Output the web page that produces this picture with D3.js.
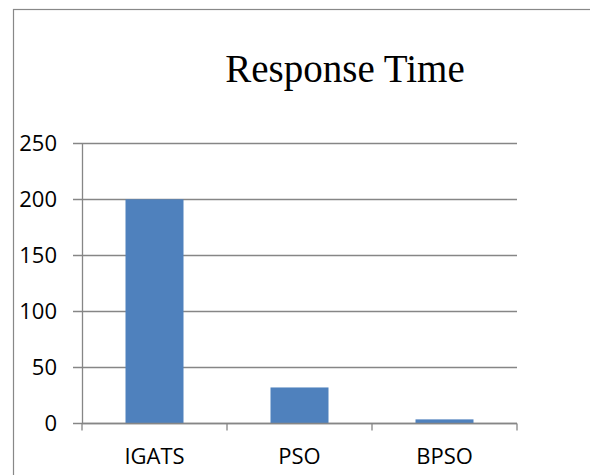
<!DOCTYPE html>
<html><head><meta charset="utf-8">
<script src="https://cdn.jsdelivr.net/npm/d3@7"></script>
<style>html,body{margin:0;padding:0;background:#fff;overflow:hidden}</style>
</head><body>
<svg id="c" width="590" height="475"></svg>
<script>
const categories = ["IGATS", "PSO", "BPSO"];
const values = [200, 32, 3.5];
const yTicks = [0, 50, 100, 150, 200, 250];
const title = "Response Time";

const svg = d3.select("#c");
svg.append("rect").attr("x", 13.5).attr("y", 9.5).attr("width", 600).attr("height", 500)
  .attr("fill", "#fff").attr("stroke", "#888").attr("stroke-width", 1.2);

const pLeft = 82, pRight = 517, pTop = 143.3, pBottom = 423.3;
const x = d3.scaleBand().domain(categories).range([pLeft, pRight]).paddingInner(0.6).paddingOuter(0.3);
const y = d3.scaleLinear().domain([0, 250]).range([pBottom, pTop]);
const grid = "#868686";

// gridlines
svg.append("g").selectAll("line").data(yTicks).join("line")
  .attr("x1", pLeft - 9).attr("x2", pRight)
  .attr("y1", d => Math.round(y(d)) + 0.5).attr("y2", d => Math.round(y(d)) + 0.5)
  .attr("stroke", grid).attr("stroke-width", 1.3);

// y axis
const ya = svg.append("g").attr("transform", `translate(${pLeft},0)`)
  .call(d3.axisLeft(y).tickValues(yTicks).tickSize(0).tickPadding(25));
ya.select(".domain").attr("stroke", grid).attr("stroke-width", 1.3);
ya.selectAll("text").attr("font-family", "Open Sans").attr("font-size", 22).attr("fill", "#000");

// bars
svg.append("g").selectAll("rect").data(categories).join("rect")
  .attr("x", d => x(d)).attr("width", x.bandwidth())
  .attr("y", (d, i) => y(values[i])).attr("height", (d, i) => pBottom - y(values[i]))
  .attr("fill", "#4f81bd");

// x axis
const xa = svg.append("g").attr("transform", `translate(0,${Math.round(pBottom) + 0.5})`);
xa.append("line").attr("x1", pLeft).attr("x2", pRight).attr("stroke", grid).attr("stroke-width", 1.3);
const bounds = d3.range(categories.length + 1).map(i => pLeft + i * (pRight - pLeft) / categories.length);
xa.selectAll("line.t").data(bounds).join("line").attr("class", "t")
  .attr("x1", d => d).attr("x2", d => d).attr("y1", 0).attr("y2", 7)
  .attr("stroke", grid).attr("stroke-width", 1.3);
xa.selectAll("text").data(categories).join("text")
  .attr("x", d => x(d) + x.bandwidth() / 2).attr("y", 40.5)
  .attr("text-anchor", "middle").attr("font-family", "Open Sans").attr("font-size", 22).attr("fill", "#000")
  .text(d => d);

// title
svg.append("text").attr("x", 345).attr("y", 82).attr("text-anchor", "middle")
  .attr("font-family", "Liberation Serif").attr("font-size", 39).attr("fill", "#000").text(title);
</script>
</body></html>
